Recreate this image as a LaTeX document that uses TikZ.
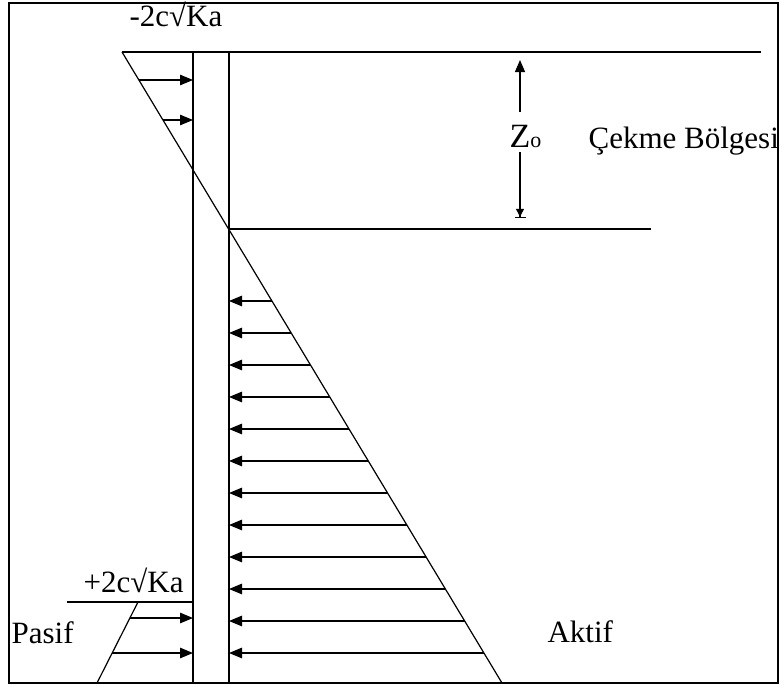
\documentclass[tikz,border=0pt]{standalone}
\usepackage{fontspec}
\setmainfont{Liberation Serif}
\usetikzlibrary{arrows.meta,calc}
\begin{document}
\begin{tikzpicture}[x=1pt,y=-1pt,line width=1.2pt,
  load/.style={-{Triangle[length=13pt,width=10.5pt]}},
  lbl/.style={font=\fontsize{31}{31}\selectfont,inner sep=0pt,anchor=base west}]
\useasboundingbox (0,0) rectangle (784,688);
\draw[line width=2.5pt] (9,3) rectangle (778,683);
% key points
\coordinate (dtop) at (122,52);
\coordinate (dmid) at (229,229);
\coordinate (dbot) at (502,683);
\coordinate (wlt) at (193,52);
\coordinate (wlb) at (193,683);
\coordinate (wrt) at (229,52);
\coordinate (wrb) at (229,683);
\coordinate (gtop) at (761,52);
\coordinate (gmid) at (651,229);
\coordinate (pl) at (67,602);
\coordinate (ptop) at (138,602);
\coordinate (pbot) at (97,683);
% walls
\draw (wlt) -- (wlb);
\draw (wrt) -- (wrb);
% ground lines
\draw (dtop) -- (gtop);
\draw (dmid) -- (gmid);
% active diagonal
\draw (dtop) -- (dbot);
% tension arrows
\foreach \yy in {80,120}{
  \pgfmathsetmacro{\f}{(\yy-52)/631}
  \coordinate (ta) at ($(dtop)!\f!(dbot)$);
  \draw[load] (ta) -- (ta -| wlt);
}
% active arrows
\foreach \k in {0,...,11}{
  \pgfmathsetmacro{\yy}{301+32*\k}
  \pgfmathsetmacro{\f}{(\yy-52)/631}
  \coordinate (aa) at ($(dtop)!\f!(dbot)$);
  \draw[load] (aa) -- (aa -| wrt);
}
% passive
\draw (pl) -- (pl -| wlt);
\draw (ptop) -- (pbot);
\foreach \yy in {618,653}{
  \pgfmathsetmacro{\f}{(\yy-602)/81}
  \coordinate (pa) at ($(ptop)!\f!(pbot)$);
  \draw[load] (pa) -- (pa -| wlt);
}
% Zo dimension
\coordinate (zt) at (520,60);
\coordinate (za) at (520,112);
\coordinate (zc) at (520,152);
\coordinate (zb) at (520,218);
\draw[-{Triangle[length=12pt,width=10pt]}] (za) -- (zt);
\draw[-{Triangle[length=8pt,width=8pt]Bar[width=11pt]}] (zc) -- (zb);
\node[lbl] (zo) at (509,147) {{\fontsize{34}{34}\selectfont Z}{\fontsize{22}{22}\selectfont o}};
% labels
\node[lbl] (tl) at (129,27) {-2c√Ka};
\node[lbl] (pl2) at (83,592) {+2c√Ka};
\node[lbl] (cek) at (588,148) {Çekme Bölgesi};
\node[lbl] (pas) at (11,643) {Pasif};
\node[lbl] (akt) at (547,642) {Aktif};
\end{tikzpicture}
\end{document}
